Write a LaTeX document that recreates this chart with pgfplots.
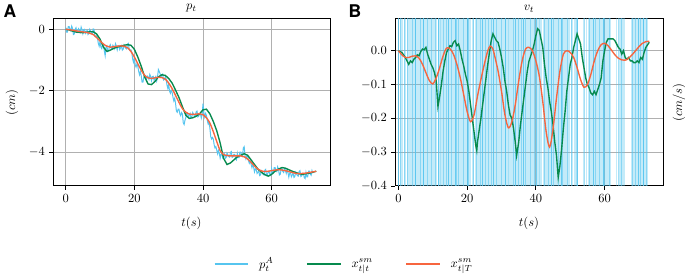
\documentclass[border=0pt]{standalone}
\usepackage{pgfplots}
\pgfplotsset{compat=1.18}
\usepackage{fontspec}
\newfontfamily\heros{TeX Gyre Heros}
\definecolor{cblue}{HTML}{56C5EF}
\definecolor{cgreen}{HTML}{078A4E}
\definecolor{cred}{HTML}{F7653F}
\definecolor{cgrid}{HTML}{B0B0B0}

\pgfplotsset{
  mystyle/.style={
    scale only axis,
    anchor=south west,
    axis line style={line width=0.8pt},
    grid=major,
    major grid style={cgrid, line width=0.8pt},
    tick pos=left,
    tick align=outside,
    major tick length=3pt,
    tick style={black, line width=0.7pt},
    xtick={0,20,40,60},
    xmin=-3.7, xmax=77,
    xlabel={$t(s)$},
    xlabel style={yshift=-5pt},
    clip=true,
  }
}

\begin{document}
\begin{tikzpicture}
\path[use as bounding box] (0,0) rectangle (548pt,224pt);

% Panel A
\begin{axis}[mystyle,
  at={(42.4pt,75.2pt)}, width=221.6pt, height=133.6pt,
  ymin=-5.1, ymax=0.335,
  ytick={0,-2,-4},
  ylabel={$(cm)$},
  ylabel style={at={(axis description cs:-0.148,0.5)}, anchor=center},
  title={$p_t$},
  title style={yshift=-4pt},
  legend style={at={(axis description cs:1.052,-0.467)}, anchor=center, draw=none,
    legend columns=3,
    /tikz/every odd column/.append style={column sep=6pt},
    /tikz/every even column/.append style={column sep=24pt},
    legend cell align=left},
  legend image code/.code={\draw[#1, line width=1.3pt] (0pt,0pt) -- (27pt,0pt);},
]
\addplot[cblue, line width=0.8pt] coordinates {
(0,0.06)(0.25,-0.09)(0.5,-0.09)(0.75,0.09)(1,0.09)(1.25,0.0)(1.5,-0.05)(1.75,0.10)(2,0.02)(2.25,-0.17)
(2.5,-0.15)(2.75,0.0)(3,0.05)(3.25,-0.07)(3.5,-0.10)(3.75,0.02)(4,-0.02)(4.25,-0.09)(4.5,0.07)(4.75,-0.01)
(5,-0.14)(5.25,-0.01)(5.5,0.0)(5.75,-0.13)(6,-0.08)(6.25,-0.03)(6.5,-0.17)(6.75,-0.14)(7,0.0)(7.25,-0.05)
(7.5,-0.12)(7.75,-0.14)(8,0.01)(8.25,0.0)(8.5,-0.22)(8.75,-0.25)(9,-0.22)(9.25,-0.27)(9.5,-0.46)(9.75,-0.55)
(10,-0.39)(10.25,-0.58)(10.5,-0.63)(10.75,-0.48)(11,-0.50)(11.25,-0.70)(11.5,-0.86)(11.75,-0.58)(12,-0.54)(12.25,-0.72)
(12.5,-0.70)(12.75,-0.55)(13,-0.50)(13.25,-0.61)(13.5,-0.64)(13.75,-0.52)(14,-0.56)(14.25,-0.63)(14.5,-0.47)(14.75,-0.54)
(15,-0.67)(15.25,-0.54)(15.5,-0.53)(15.75,-0.66)(16,-0.60)(16.25,-0.54)(16.5,-0.68)(16.75,-0.65)(17,-0.51)(17.25,-0.56)
(17.5,-0.62)(17.75,-0.64)(18,-0.49)(18.25,-0.46)(18.5,-0.65)(18.75,-0.69)(19,-0.67)(19.25,-0.75)(19.5,-0.96)(19.75,-1.07)
(20,-0.94)(20.25,-1.16)(20.5,-1.23)(20.75,-1.13)(21,-1.20)(21.25,-1.36)(21.5,-1.48)(21.75,-1.38)(22,-1.51)(22.25,-1.72)
(22.5,-1.72)(22.75,-1.56)(23,-1.50)(23.25,-1.61)(23.5,-1.64)(23.75,-1.52)(24,-1.56)(24.25,-1.63)(24.5,-1.47)(24.75,-1.54)
(25,-1.67)(25.25,-1.54)(25.5,-1.53)(25.75,-1.66)(26,-1.60)(26.25,-1.54)(26.5,-1.68)(26.75,-1.55)(27,-1.31)(27.25,-1.37)
(27.5,-1.45)(27.75,-1.55)(28,-1.49)(28.25,-1.46)(28.5,-1.65)(28.75,-1.63)(29,-1.55)(29.25,-1.61)(29.5,-1.81)(29.75,-1.92)
(30,-1.79)(30.25,-2.01)(30.5,-2.08)(30.75,-1.98)(31,-2.05)(31.25,-2.21)(31.5,-2.33)(31.75,-2.25)(32,-2.41)(32.25,-2.66)
(32.5,-2.70)(32.75,-2.60)(33,-2.60)(33.25,-2.75)(33.5,-2.81)(33.75,-2.71)(34,-2.76)(34.25,-3.04)(34.5,-3.10)(34.75,-2.96)
(35,-2.87)(35.25,-2.74)(35.5,-2.73)(35.75,-2.86)(36,-2.80)(36.25,-2.74)(36.5,-2.88)(36.75,-2.85)(37,-2.71)(37.25,-2.76)
(37.5,-2.82)(37.75,-2.84)(38,-2.69)(38.25,-2.66)(38.5,-2.85)(38.75,-2.83)(39,-2.75)(39.25,-2.75)(39.5,-2.89)(39.75,-2.78)
(40,-2.42)(40.25,-2.71)(40.5,-2.86)(40.75,-2.74)(41,-2.80)(41.25,-2.96)(41.5,-3.08)(41.75,-3.03)(42,-3.21)(42.25,-3.49)
(42.5,-3.57)(42.75,-3.52)(43,-3.57)(43.25,-3.76)(43.5,-3.86)(43.75,-3.82)(44,-3.93)(44.25,-4.05)(44.5,-3.94)(44.75,-4.04)
(45,-4.19)(45.25,-4.06)(45.5,-4.05)(45.75,-4.18)(46,-4.12)(46.25,-4.06)(46.5,-4.20)(46.75,-4.17)(47,-4.03)(47.25,-4.08)
(47.5,-4.14)(47.75,-4.16)(48,-4.01)(48.25,-3.98)(48.5,-4.17)(48.75,-4.15)(49,-4.07)(49.25,-4.07)(49.5,-4.21)(49.75,-4.25)
(50,-4.04)(50.25,-4.18)(50.5,-4.18)(50.75,-4.00)(51,-4.00)(51.25,-4.09)(51.5,-4.13)(51.75,-3.86)(52,-3.82)(52.25,-4.12)
(52.5,-4.22)(52.75,-4.12)(53,-4.12)(53.25,-4.28)(53.5,-4.36)(53.75,-4.29)(54,-4.38)(54.25,-4.50)(54.5,-4.39)(54.75,-4.49)
(55,-4.64)(55.25,-4.54)(55.5,-4.55)(55.75,-4.69)(56,-4.65)(56.25,-4.61)(56.5,-4.76)(56.75,-4.74)(57,-4.61)(57.25,-4.66)
(57.5,-4.72)(57.75,-4.74)(58,-4.59)(58.25,-4.56)(58.5,-4.75)(58.75,-4.73)(59,-4.65)(59.25,-4.62)(59.5,-4.73)(59.75,-4.76)
(60,-4.54)(60.25,-4.68)(60.5,-4.68)(60.75,-4.50)(61,-4.50)(61.25,-4.59)(61.5,-4.63)(61.75,-4.48)(62,-4.56)(62.25,-4.74)
(62.5,-4.72)(62.75,-4.57)(63,-4.52)(63.25,-4.63)(63.5,-4.66)(63.75,-4.54)(64,-4.58)(64.25,-4.69)(64.5,-4.57)(64.75,-4.66)
(65,-4.81)(65.25,-4.68)(65.5,-4.67)(65.75,-4.80)(66,-4.74)(66.25,-4.68)(66.5,-4.82)(66.75,-4.79)(67,-4.65)(67.25,-4.70)
(67.5,-4.76)(67.75,-4.78)(68,-4.63)(68.25,-4.60)(68.5,-4.79)(68.75,-4.77)(69,-4.69)(69.25,-4.69)(69.5,-4.83)(69.75,-4.86)
(70,-4.66)(70.25,-4.80)(70.5,-4.80)(70.75,-4.62)(71,-4.62)(71.25,-4.71)(71.5,-4.75)(71.75,-4.60)(72,-4.68)
};
\addlegendentry{$p_t^A$}
\addplot[cgreen, line width=1.1pt] coordinates {
(0,0)(1,-0.02)(2,-0.06)(3,-0.09)(4,-0.10)(5,-0.11)(6,-0.10)(7,-0.08)(8,-0.08)(9,-0.15)
(10,-0.32)(11,-0.58)(12,-0.72)(13,-0.68)(14,-0.62)(15,-0.58)(16,-0.55)(17,-0.52)(18,-0.50)(19,-0.52)
(20,-0.65)(21,-0.90)(22,-1.20)(23,-1.55)(24,-1.78)(25,-1.80)(26,-1.70)(27,-1.55)(28,-1.48)(29,-1.50)
(30,-1.60)(31,-1.75)(32,-1.98)(33,-2.22)(34,-2.52)(35,-2.80)(36,-2.90)(37,-2.88)(38,-2.83)(39,-2.75)
(40,-2.62)(41,-2.60)(42,-2.75)(43,-3.00)(44,-3.30)(45,-3.70)(46,-4.20)(47,-4.40)(48,-4.35)(49,-4.25)
(50,-4.15)(51,-4.10)(52,-4.05)(53,-4.10)(54,-4.25)(55,-4.40)(56,-4.55)(57,-4.65)(58,-4.73)(59,-4.78)
(60,-4.72)(61,-4.62)(62,-4.55)(63,-4.50)(64,-4.52)(65,-4.57)(66,-4.62)(67,-4.66)(68,-4.70)(69,-4.72)
(70,-4.70)(71,-4.68)(72,-4.65)(73,-4.62)
};
\addlegendentry{$x^{sm}_{t|t}$}
\addplot[cred, line width=1.1pt, smooth] coordinates {
(0,0)(2,-0.03)(4,-0.07)(6,-0.10)(7,-0.13)(8,-0.17)(9,-0.27)(10,-0.38)(11,-0.48)(12,-0.55)
(13,-0.58)(14,-0.57)(15,-0.55)(16,-0.54)(17,-0.55)(18,-0.60)(19,-0.72)(20,-0.90)(21,-1.12)(22,-1.33)
(23,-1.50)(24,-1.58)(25,-1.60)(26,-1.58)(27,-1.56)(28,-1.57)(29,-1.62)(30,-1.75)(31,-1.93)(32,-2.15)
(33,-2.38)(34,-2.58)(35,-2.70)(36,-2.76)(37,-2.77)(38,-2.76)(39,-2.75)(40,-2.78)(41,-2.88)(42,-3.05)
(43,-3.33)(44,-3.65)(45,-3.95)(46,-4.08)(47,-4.11)(48,-4.12)(49,-4.12)(50,-4.12)(51,-4.12)(52,-4.15)
(53,-4.22)(54,-4.33)(55,-4.45)(56,-4.55)(57,-4.61)(58,-4.63)(59,-4.62)(60,-4.60)(61,-4.58)(62,-4.57)
(63,-4.58)(64,-4.60)(65,-4.63)(66,-4.66)(67,-4.69)(68,-4.70)(69,-4.69)(70,-4.68)(71,-4.66)(72,-4.64)(73,-4.62)
};
\addlegendentry{$x^{sm}_{t|T}$}
\end{axis}
\node[font=\heros\bfseries\fontsize{14}{16}\selectfont] at (8pt,215pt) {A};
\node[font=\heros\bfseries\fontsize{14}{16}\selectfont] at (284pt,215pt) {B};

% Panel B
\begin{axis}[mystyle,
  at={(316pt,75.2pt)}, width=214.4pt, height=133.6pt,
  xmin=-1, xmax=77,
  ymin=-0.4, ymax=0.094,
  ytick={0,-0.1,-0.2,-0.3,-0.4},
  yticklabel style={/pgf/number format/fixed, /pgf/number format/fixed zerofill, /pgf/number format/precision=1},
  ylabel={$(cm/s)$},
  ylabel style={at={(axis description cs:1.06,0.5)}, anchor=center},
  title={$v_t$},
  title style={yshift=-4pt},
]
% raw velocity of p^A: spikes far outside the view, drawn as vertical lines
\addplot[cblue, opacity=0.35, line width=1.2pt, const plot] coordinates {
(0.3,1)(0.8,-1)(1.2,1)(1.7,-1)(2.1,1)(2.6,-1)(3.0,1)(3.5,-1)(3.9,1)(4.4,-1)(4.8,1)(5.3,-1)(5.7,1)(6.2,-1)(6.6,1)(7.1,-1)(7.5,1)(8.0,-1)(8.4,1)(8.9,-1)
(9.3,1)(9.8,-1)(10.2,1)(10.7,-1)(11.1,1)(11.6,-1)(12.0,1)(12.5,-1)(12.9,1)(13.4,-1)(13.8,1)(14.3,-1)(14.7,1)(15.2,-1)(15.6,1)(16.1,-1)(16.5,1)(17.0,-1)(17.4,1)(17.9,-1)
(18.3,1)(18.8,-1)(19.2,1)(19.7,-1)(20.1,1)(20.6,-1)(21.0,1)(21.5,-1)(21.9,1)(22.4,-1)(22.8,1)(23.3,-1)(23.7,1)(24.2,-1)(24.6,1)(25.1,-1)(25.5,1)(26.0,-1)(26.4,1)(26.9,-1)
(27.3,1)(27.8,-1)(28.2,1)(28.7,-1)(29.1,1)(29.6,-1)(30.0,1)(30.5,-1)(30.9,1)(31.4,-1)(31.8,1)(32.3,-1)(32.7,1)(33.2,-1)(33.6,1)(34.1,-1)(34.5,1)(35.0,-1)(35.4,1)(35.9,-1)
(36.3,1)(36.8,-1)(37.2,1)(37.7,-1)(38.1,1)(38.6,-1)(39.0,1)(39.5,-1)(39.9,1)(40.4,-1)(40.8,1)(41.3,-1)(41.7,1)(42.2,-1)(42.6,1)(43.1,-1)(43.5,1)(44.0,-1)(44.4,1)(44.9,-1)
(45.3,1)(45.8,-1)(46.2,1)(46.7,-1)(47.1,1)(47.6,-1)(48.0,1)(48.5,-1)(48.9,1)(49.4,-1)(49.8,1)(50.3,-1)(50.7,1)(51.2,-1)(51.6,1)(52.1,-1)(53.9,1)(54.8,-1)(55.3,1)(55.7,-1)
(56.2,1)(56.6,-1)(57.1,1)(57.5,-1)(58.0,1)(58.4,-1)(58.9,1)(59.3,-1)(59.8,1)(60.2,-1)(60.7,1)(61.1,-1)(61.6,1)(63.4,-1)(64.3,1)(64.8,-1)(65.2,1)(65.7,-1)(67.9,1)(68.3,-1)
(68.8,1)(69.2,-1)(69.7,1)(70.1,-1)(70.6,1)(71.0,-1)(71.5,1)(71.9,-1)(72.4,1)
};
\addplot[cblue, opacity=0.55, line width=0.8pt, const plot] coordinates {
(0.0,1)(0.5,-1)(1.9,1)(2.7,-1)(4.0,1)(5.1,-1)(6.3,1)(7.4,-1)(8.6,1)(9.5,-1)(10.9,1)(12.2,-1)(13.0,1)(14.0,-1)(15.4,1)(16.8,-1)(17.6,1)(19.0,-1)(20.3,1)(21.7,-1)
(22.6,1)(23.9,-1)(25.3,1)(26.2,-1)(27.1,1)(28.4,-1)(29.9,1)(31.2,-1)(32.0,1)(33.4,-1)(34.8,1)(35.7,-1)(37.0,1)(38.3,-1)(39.7,1)(41.0,-1)(42.4,1)(43.8,-1)(45.1,1)(46.5,-1)
(47.8,1)(49.2,-1)(50.5,1)(51.9,-1)(54.2,1)(55.5,-1)(57.3,1)(58.6,-1)(60.0,1)(61.4,-1)(64.0,1)(65.0,-1)(68.1,1)(69.0,-1)(70.4,1)(71.3,-1)(72.2,1)
};
\addplot[cblue, opacity=0.85, line width=0.6pt, const plot] coordinates {
(-0.5,1)(0.1,-1)(4.9,1)(7.2,-1)(11.5,1)(14.5,-1)(16.5,1)(20.0,-1)(24.4,1)(27.6,-1)(31.0,1)(34.0,-1)(36.3,1)(40.2,-1)(44.6,1)(47.4,-1)(52.0,1)(56.7,-1)(59.6,1)(69.8,-1)(71.3,1)
};
\addplot[cgreen, line width=1.1pt] coordinates {
(0,0)(1,-0.005)(2,-0.02)(2.5,-0.03)(3,-0.04)(3.5,-0.03)(4,-0.035)(4.5,-0.025)(5,-0.02)(5.5,-0.012)
(6,-0.015)(6.5,-0.002)(7,0.005)(7.5,0.003)(8,0.01)(8.5,-0.01)(9,-0.025)(9.5,-0.04)(10,-0.05)(10.5,-0.065)
(11,-0.09)(11.5,-0.165)(12,-0.135)(12.5,-0.1)(13,-0.06)(13.5,-0.03)(14,-0.005)(14.5,0.005)(15,0.015)(15.5,0.012)
(16,0.025)(16.5,0.03)(17,0.015)(17.5,0.02)(18,0.0)(18.5,-0.025)(19,-0.045)(19.5,-0.07)(20,-0.09)(20.5,-0.12)
(21,-0.16)(21.5,-0.2)(22,-0.24)(22.5,-0.28)(22.8,-0.295)(23,-0.27)(23.5,-0.235)(24,-0.2)(24.5,-0.16)(25,-0.12)
(25.5,-0.08)(26,-0.04)(26.5,-0.005)(27,0.03)(27.5,0.05)(28,0.04)(28.5,0.03)(29,0.025)(29.5,0.005)(30,-0.02)
(30.5,-0.05)(31,-0.09)(31.5,-0.12)(32,-0.16)(32.5,-0.19)(33,-0.2)(33.5,-0.23)(34,-0.27)(34.4,-0.31)(35,-0.27)
(35.5,-0.22)(36,-0.18)(36.5,-0.14)(37,-0.1)(37.5,-0.06)(38,-0.03)(38.5,-0.015)(39,0.0)(39.5,0.02)(40,0.045)
(40.5,0.065)(41,0.06)(41.5,0.035)(42,0.01)(42.5,-0.04)(43,-0.08)(43.5,-0.11)(44,-0.15)(44.5,-0.18)(45,-0.22)
(45.5,-0.27)(46,-0.31)(46.5,-0.375)(47,-0.34)(47.5,-0.29)(48,-0.23)(48.5,-0.18)(49,-0.12)(49.5,-0.08)(50,-0.04)
(50.5,-0.02)(51,0.01)(51.5,0.03)(52,0.05)(52.5,0.035)(53,0.02)(53.5,-0.02)(54,-0.05)(54.5,-0.08)(55,-0.1)
(55.5,-0.11)(56,-0.125)(56.5,-0.13)(57,-0.12)(57.5,-0.13)(58,-0.115)(58.5,-0.1)(59,-0.08)(59.5,-0.03)(60,0.0)
(60.5,0.025)(61,0.035)(61.5,0.035)(62,0.035)(62.5,0.035)(63,0.03)(63.5,0.02)(64,0.01)(64.5,0.005)(65,-0.01)
(65.5,0.0)(66,-0.02)(66.5,-0.025)(67,-0.02)(67.5,-0.03)(68,-0.03)(68.5,-0.035)(69,-0.035)(69.5,-0.03)(70,-0.035)
(70.5,-0.02)(71,-0.025)(71.5,-0.005)(72,0.01)(73,0.025)
};
\addplot[cred, line width=1.1pt, smooth] coordinates {
(0,0)(1,-0.012)(2,-0.02)(3,-0.02)(4,-0.016)(5,-0.015)(6,-0.022)(7,-0.04)(8,-0.065)(9,-0.088)
(10,-0.098)(11,-0.08)(12,-0.05)(13,-0.015)(14,0.008)(15,0.006)(16,-0.01)(17,-0.04)(18,-0.08)(19,-0.13)
(20,-0.18)(21,-0.21)(22,-0.19)(23,-0.135)(24,-0.085)(25,-0.04)(26,0.0)(26.7,0.014)(27.5,0.005)(28,-0.015)
(29,-0.06)(30,-0.12)(31,-0.19)(32,-0.228)(33,-0.21)(34,-0.16)(35,-0.09)(36,-0.03)(37,0.005)(38,0.01)
(39,0.0)(40,-0.03)(41,-0.075)(42,-0.15)(43,-0.24)(44,-0.285)(45,-0.23)(46,-0.14)(47,-0.06)(48,-0.01)
(49,0.0)(50,-0.005)(51,-0.02)(52,-0.05)(53,-0.085)(54,-0.108)(55,-0.1)(56,-0.07)(57,-0.03)(58,0.0)
(59,0.018)(60,0.022)(61,0.015)(62,0.002)(63,-0.012)(64,-0.022)(65,-0.027)(66,-0.028)(67,-0.022)(68,-0.012)
(69,0.0)(70,0.012)(71,0.022)(72,0.027)(73,0.028)
};
\end{axis}
\end{tikzpicture}
\end{document}
